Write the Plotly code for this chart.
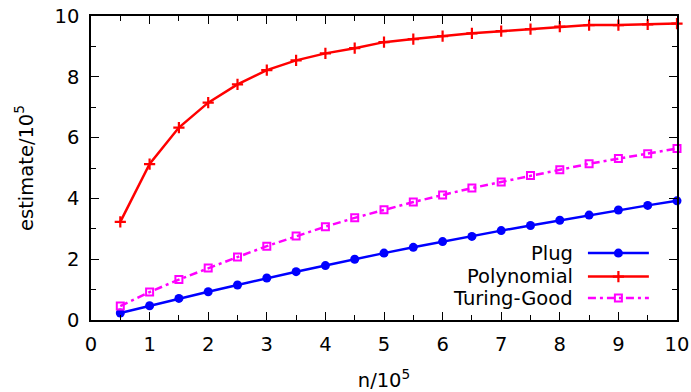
import plotly.graph_objects as go

n = [0.5, 1, 1.5, 2, 2.5, 3, 3.5, 4, 4.5, 5, 5.5, 6, 6.5, 7, 7.5, 8, 8.5, 9, 9.5, 10]
plug = [0.23, 0.47, 0.71, 0.93, 1.15, 1.38, 1.59, 1.79, 2.00, 2.20,
        2.39, 2.58, 2.75, 2.94, 3.11, 3.28, 3.45, 3.62, 3.77, 3.92]
polynomial = [3.23, 5.13, 6.33, 7.15, 7.75, 8.22, 8.54, 8.77, 8.94, 9.14,
              9.24, 9.34, 9.43, 9.50, 9.57, 9.65, 9.70, 9.70, 9.72, 9.75]
turing_good = [0.46, 0.92, 1.33, 1.71, 2.07, 2.43, 2.76, 3.07, 3.36, 3.63,
               3.88, 4.11, 4.34, 4.54, 4.75, 4.94, 5.14, 5.31, 5.47, 5.64]

series_names = ["Plug", "Polynomial", "Turing-Good"]
x_ticks = [0, 1, 2, 3, 4, 5, 6, 7, 8, 9, 10]
y_ticks = [0, 2, 4, 6, 8, 10]

FONT = "DejaVu Sans"
FS = 19.5
BLUE = "#0000ff"
RED = "#ff0000"
MAG = "#ff00ff"

styles = [
    dict(line=dict(color=BLUE, width=2.5),
         marker=dict(symbol="circle", size=9, color=BLUE)),
    dict(line=dict(color=RED, width=2.5),
         marker=dict(symbol="cross-thin", size=8, color=RED,
                     line=dict(color=RED, width=2.2))),
    dict(line=dict(color=MAG, width=2.5, dash="8px,4px,3px,4px"),
         marker=dict(symbol="square-open", size=7, color=MAG,
                     line=dict(color=MAG, width=2))),
]

fig = go.Figure()
for name, ys, st in zip(series_names, [plug, polynomial, turing_good], styles):
    fig.add_trace(go.Scatter(x=n, y=ys, mode="lines+markers", name=name,
                             showlegend=False, cliponaxis=False, **st))

# custom gnuplot-style legend (text left, sample right) on an overlay axis
leg_y = [0.22, 0.143, 0.072]
for name, ly, st in zip(series_names, leg_y, styles):
    fig.add_trace(go.Scatter(x=[0.848, 0.952], y=[ly, ly], mode="lines",
                             line=st["line"], xaxis="x2", yaxis="y2",
                             showlegend=False, hoverinfo="skip"))
    fig.add_trace(go.Scatter(x=[0.90], y=[ly], mode="markers",
                             marker=st["marker"], xaxis="x2", yaxis="y2",
                             showlegend=False, hoverinfo="skip"))
    fig.add_annotation(x=0.826, y=ly, xref="x2", yref="y2", text=name,
                       showarrow=False, xanchor="right", yanchor="middle",
                       font=dict(family=FONT, size=FS, color="black"))

axis_common = dict(
    showline=True, linecolor="black", linewidth=1.5, mirror="ticks",
    ticks="inside", ticklen=8, tickwidth=1.2, tickcolor="black",
    showgrid=False, zeroline=False, automargin=False,
    ticklabeloverflow="allow",
    tickfont=dict(family=FONT, size=FS, color="black"),
)

fig.update_layout(
    width=691, height=392,
    margin=dict(l=91, r=14, t=16, b=72),
    plot_bgcolor="white", paper_bgcolor="white",
    font=dict(family=FONT, size=FS, color="black"),
    xaxis=dict(range=[0, 10], tickvals=x_ticks, ticklabelstandoff=6,
               minor=dict(ticks="inside", ticklen=5, dtick=0.5,
                          tickcolor="black", tickwidth=1.2),
               title=dict(text="n/10<sup>5</sup>", standoff=21,
                          font=dict(family=FONT, size=FS)),
               **axis_common),
    yaxis=dict(range=[0, 10], tickvals=y_ticks, ticklabelstandoff=6,
               minor=dict(ticks="inside", ticklen=5, dtick=1,
                          tickcolor="black", tickwidth=1.2),
               title=dict(text="estimate/10<sup>5</sup>", standoff=16,
                          font=dict(family=FONT, size=FS)),
               **axis_common),
    xaxis2=dict(range=[0, 1], overlaying="x", visible=False, fixedrange=True),
    yaxis2=dict(range=[0, 1], overlaying="y", visible=False, fixedrange=True),
)

# remove the default 8px page margin so the figure fills the window exactly
fig.write_html("out.html",
               config={"displayModeBar": False},
               post_script="document.body.style.margin='0';"
                           "document.body.style.overflow='hidden';")
